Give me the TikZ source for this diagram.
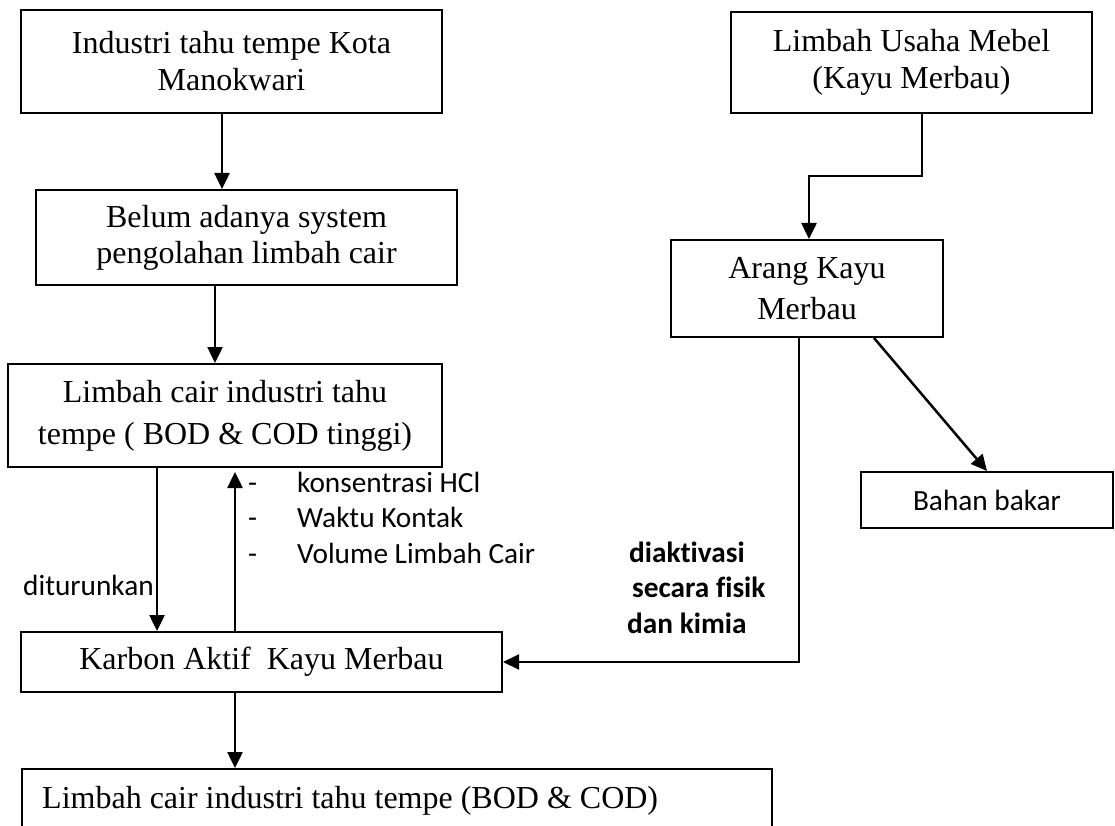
\documentclass[tikz,border=0pt]{standalone}
\usepackage{fontspec}
\setmainfont{Liberation Serif}
\newfontfamily\calibrifont[Ligatures=NoCommon]{Carlito}
\usetikzlibrary{arrows.meta}
\tikzset{
  box/.style={draw, line width=2pt, inner sep=0pt, align=center},
  tnr/.style={font=\fontsize{32}{37}\selectfont},
  cal/.style={font=\calibrifont\fontsize{29.3}{35.5}\selectfont},
  tip/.style={-{Triangle[length=16pt,width=15pt]}},
  arr/.style={line width=2.5pt, tip},
  thinarr/.style={line width=2pt, tip},
}
\begin{document}
\begin{tikzpicture}[x=1pt,y=-1pt]
\useasboundingbox (0,0) rectangle (1115,826);
% boxes
\node[box,tnr,minimum width=421pt,minimum height=103pt] (b1) at (231.5,61.5) {Industri tahu tempe Kota\\Manokwari};
\node[box,tnr,minimum width=421pt,minimum height=95pt,font=\fontsize{32}{36}\selectfont] (b2) at (246.5,237.5) {Belum adanya system\\pengolahan limbah cair};
\node[box,tnr,minimum width=434pt,minimum height=103pt,font=\fontsize{32}{42}\selectfont] (b3) at (225,415.5) {Limbah cair industri tahu\\tempe ( BOD \& COD tinggi)};
\node[box,tnr,minimum width=481pt,minimum height=60pt] (karbon) at (261.5,662) {Karbon Aktif\ \ Kayu Merbau};
\node[box,minimum width=750pt,minimum height=110pt,anchor=north west] (final) at (21,768) {};
\node[tnr,anchor=base west,inner sep=0pt] (finaltext) at (42,808) {Limbah cair industri tahu tempe (BOD \& COD)};
\node[box,tnr,minimum width=361pt,minimum height=101pt] (mebel) at (911.5,62.5) {Limbah Usaha Mebel\\(Kayu Merbau)};
\node[box,tnr,minimum width=272pt,minimum height=97pt,font=\fontsize{32}{41}\selectfont] (arang) at (807,288.5) {Arang Kayu\\Merbau};
\node[box,cal,minimum width=252pt,minimum height=56pt] (bahan) at (987,500) {Bahan bakar};
% labels
\node[cal,anchor=base west,inner sep=0pt] (turun) at (23,595) {diturunkan};
\node[cal,anchor=base west,inner sep=0pt] (params) at (248,492) {\begin{tabular}[t]{@{}l@{\hspace{40pt}}l@{}}-&konsentrasi HCl\\-&Waktu Kontak\\-&Volume Limbah Cair\end{tabular}};
\node[cal,font=\calibrifont\bfseries\fontsize{29.3}{35.5}\selectfont,anchor=base west,inner sep=0pt] (aktiv) at (627,562) {\begin{tabular}[t]{@{}l@{}}\hspace{2pt}diaktivasi\\\hspace{5pt}secara fisik\\dan kimia\end{tabular}};
% x positions of connectors
\coordinate (xa) at (222,0);
\coordinate (xb) at (215,0);
\coordinate (xc) at (157,0);
\coordinate (xd) at (235,0);
\coordinate (xe) at (922,0);
\coordinate (jog) at (809,176);
\coordinate (xf) at (874,0);
\coordinate (xg) at (799,0);
% connectors
\draw[arr] (b1.south -| xa) -- (b2.north -| xa);
\draw[arr] (b2.south -| xb) -- (b3.north -| xb);
\draw[arr] (b3.south -| xc) -- (karbon.north -| xc);
\draw[arr] (karbon.north -| xd) -- ([yshift=-4pt]b3.south -| xd);
\draw[arr] (karbon.south -| xd) -- (final.north -| xd);
\draw[arr] (mebel.south -| xe) |- (jog) -- (arang.north -| jog);
\draw[arr] (arang.south -| xf) -- (bahan.north);
\draw[thinarr] (arang.south -| xg) |- (karbon.east);
\end{tikzpicture}
\end{document}
